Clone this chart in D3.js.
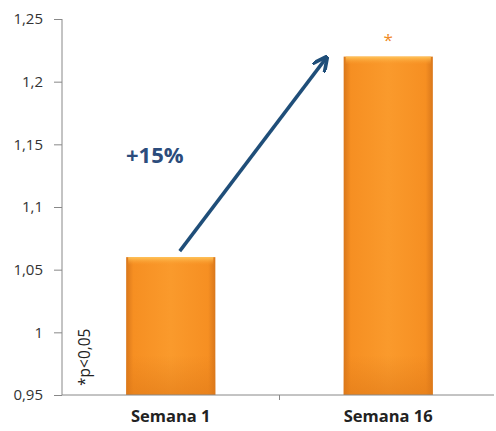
<html>
<head>
    <meta charset="utf-8">
    <script src="https://d3js.org/d3.v7.min.js"></script>
    <style>
        body { margin: 0; background: #fff; }
    </style>
</head>
<body>
    <div id="chart"></div>
    <script>
        // data
        var categories = ["Semana 1", "Semana 16"];
        var values = [1.06, 1.22];
        var marks = ["", "*"];
        var yTicks = [0.95, 1, 1.05, 1.1, 1.15, 1.2, 1.25];

        var W = 496, H = 431;
        var font = "'Open Sans', sans-serif";
        var svg = d3.select("#chart").append("svg")
            .attr("width", W)
            .attr("height", H);

        var x = d3.scaleBand()
            .domain(categories)
            .range([62, 497])
            .paddingInner(0.59)
            .paddingOuter(0.295);

        var y = d3.scaleLinear()
            .domain([0.95, 1.25])
            .range([395, 19]);

        // gradients for the bars
        var defs = svg.append("defs");
        var g1 = defs.append("linearGradient").attr("id", "barGrad")
            .attr("x1", "0%").attr("x2", "100%").attr("y1", "0%").attr("y2", "0%");
        g1.append("stop").attr("offset", "0%").attr("stop-color", "#d9771b");
        g1.append("stop").attr("offset", "8%").attr("stop-color", "#f68f22");
        g1.append("stop").attr("offset", "50%").attr("stop-color", "#fa9a2c");
        g1.append("stop").attr("offset", "92%").attr("stop-color", "#f68f22");
        g1.append("stop").attr("offset", "100%").attr("stop-color", "#d9771b");

        var g2 = defs.append("linearGradient").attr("id", "topGrad")
            .attr("x1", "0%").attr("x2", "0%").attr("y1", "0%").attr("y2", "100%");
        g2.append("stop").attr("offset", "0%").attr("stop-color", "#ffc55a");
        g2.append("stop").attr("offset", "100%").attr("stop-color", "#fa9a2c").attr("stop-opacity", 0);

        var g3 = defs.append("linearGradient").attr("id", "botGrad")
            .attr("x1", "0%").attr("x2", "0%").attr("y1", "0%").attr("y2", "100%");
        g3.append("stop").attr("offset", "0%").attr("stop-color", "#e07a18").attr("stop-opacity", 0);
        g3.append("stop").attr("offset", "100%").attr("stop-color", "#e07a18");

        var data = categories.map(function (c, i) { return { cat: c, v: values[i], mark: marks[i] }; });

        var bars = svg.selectAll("g.bar")
            .data(data)
            .enter()
            .append("g")
            .attr("class", "bar");

        bars.append("rect")
            .attr("x", function (d) { return x(d.cat); })
            .attr("y", function (d) { return y(d.v); })
            .attr("width", x.bandwidth())
            .attr("height", function (d) { return y(0.95) - y(d.v); })
            .attr("fill", "url(#barGrad)");

        // top bevel highlight
        bars.append("rect")
            .attr("x", function (d) { return x(d.cat) + 2; })
            .attr("y", function (d) { return y(d.v); })
            .attr("width", x.bandwidth() - 4)
            .attr("height", 8)
            .attr("fill", "url(#topGrad)");

        // darker bottom
        bars.append("rect")
            .attr("x", function (d) { return x(d.cat); })
            .attr("y", function (d) { return y(0.95) - 40; })
            .attr("width", x.bandwidth())
            .attr("height", 40)
            .attr("fill", "url(#botGrad)")
            .attr("opacity", 0.6);

        // significance mark
        bars.append("text")
            .attr("x", function (d) { return x(d.cat) + x.bandwidth() / 2; })
            .attr("y", function (d) { return y(d.v) - 11; })
            .attr("text-anchor", "middle")
            .style("font-family", font)
            .style("font-size", "17px")
            .style("fill", "#f08a24")
            .text(function (d) { return d.mark; });

        // y axis
        var yAxis = d3.axisLeft(y)
            .tickValues(yTicks)
            .tickSize(8)
            .tickFormat(function (d) { return d3.format(".2~f")(d).replace(".", ","); });

        var ya = svg.append("g")
            .attr("transform", "translate(62,0)")
            .call(yAxis);
        ya.select(".domain").attr("stroke", "#888").attr("d", "M0,19V395");
        ya.selectAll(".tick line").attr("stroke", "#888");
        ya.selectAll(".tick text")
            .attr("x", -19)
            .style("font-family", font)
            .style("font-size", "15px")
            .style("fill", "#333");

        // x axis
        var xa = svg.append("g")
            .attr("transform", "translate(0,395)")
            .call(d3.axisBottom(x).tickSize(0));
        xa.select(".domain").attr("stroke", "#888").attr("d", "M62,0H494");
        xa.selectAll(".tick text")
            .attr("dy", "1.45em")
            .style("font-family", font)
            .style("font-size", "16.5px")
            .style("font-weight", "bold")
            .style("fill", "#222");
        // category divider tick
        var mid = (x("Semana 1") + x("Semana 16") + x.bandwidth()) / 2;
        svg.append("line")
            .attr("x1", mid).attr("x2", mid)
            .attr("y1", 395).attr("y2", 400)
            .attr("stroke", "#888");

        // p value note
        svg.append("text")
            .attr("transform", "translate(90,386) rotate(-90)")
            .style("font-family", font)
            .style("font-size", "15.5px")
            .style("fill", "#222")
            .text("*p<0,05");

        // arrow
        defs.append("marker")
            .attr("id", "head")
            .attr("viewBox", "0 0 10 10")
            .attr("refX", 8).attr("refY", 5)
            .attr("markerWidth", 4.4).attr("markerHeight", 4.4)
            .attr("orient", "auto")
            .append("path")
            .attr("d", "M0,0 L10,5 L0,10")
            .attr("fill", "none")
            .attr("stroke", "#1f4e79")
            .attr("stroke-width", 2.4)
            .attr("stroke-linejoin", "miter");

        var x0 = x("Semana 1") + x.bandwidth() / 2 + 9;
        var x1 = x("Semana 16") - 18;
        svg.append("line")
            .attr("x1", x0).attr("y1", y(values[0]) - 6)
            .attr("x2", x1).attr("y2", y(values[1]) + 2)
            .attr("stroke", "#1f4e79")
            .attr("stroke-width", 3.5)
            .attr("marker-end", "url(#head)");

        svg.append("text")
            .attr("x", 126)
            .attr("y", 163)
            .style("font-family", font)
            .style("font-size", "22px")
            .style("font-weight", "bold")
            .style("fill", "#2c4c7c")
            .text("+15%");
    </script>
</body>
</html>
